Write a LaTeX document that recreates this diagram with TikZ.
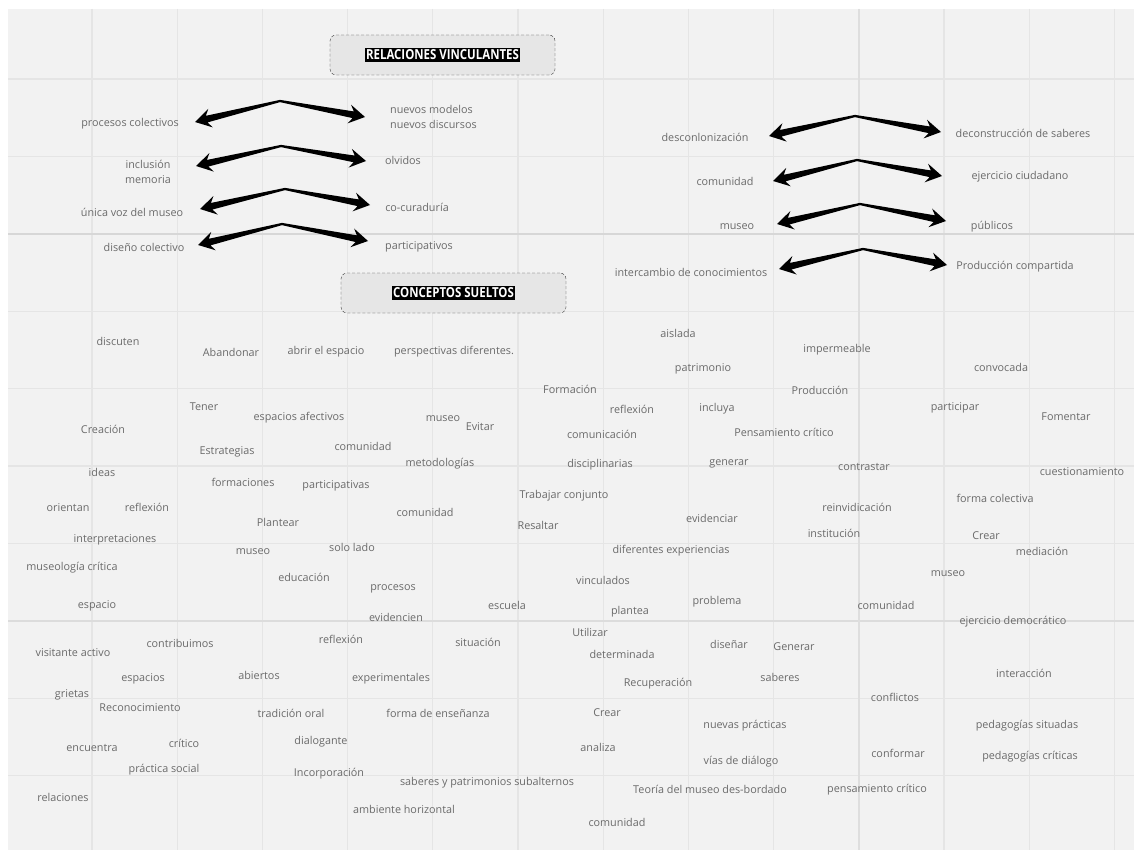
\documentclass[tikz,border=0pt]{standalone}
\usepackage{fontspec}
\setmainfont{Open Sans}
\newfontfamily\headfont{Open Sans}[FakeStretch=0.83]
\usetikzlibrary{calc}

\definecolor{canvas}{HTML}{F2F2F2}
\definecolor{gridline}{HTML}{E5E5E5}
\definecolor{wordgray}{HTML}{6A6A6A}
\definecolor{boxfill}{HTML}{E6E6E6}

% tapered arrow from an apex (#1) to a tip (#2)
\newcommand\fatarrow[2]{%
  \coordinate (fb) at ($(#2)!12pt!(#1)$);
  \coordinate (fq) at ($(#2)!16pt!(#1)$);
  \fill ($(#1)!1.1pt!90:(#2)$) -- ($(fb)!3.4pt!90:(#2)$) -- ($(fq)!9.5pt!90:(#2)$) -- (#2)
    -- ($(fq)!9.5pt!-90:(#2)$) -- ($(fb)!3.4pt!-90:(#2)$) -- ($(#1)!1.1pt!-90:(#2)$) -- cycle;
}

\begin{document}
\begin{tikzpicture}[x=1pt, y=-1pt,
  concept/.style = {text=wordgray, inner sep=1pt, font=\fontsize{10.8}{14.5}\selectfont},
  headbox/.style = {draw=black!80, dash pattern=on 3pt off 2pt, rounded corners=6pt, fill=boxfill, minimum width=225pt, minimum height=40pt},
  headlabel/.style = {fill=black, text=white, inner sep=1.5pt, font=\headfont\bfseries\fontsize{13.8}{14}\selectfont}]

\useasboundingbox (0,0) rectangle (1134,850);
\fill[white] (0,0) rectangle (1134,850);
\fill[canvas] (8,9) rectangle (1134,850);

% grid
\foreach \k in {0,...,12} \draw[gridline, line width=1.2pt] (92+85.2*\k,9) -- (92+85.2*\k,850);
\foreach \k in {0,...,9} \draw[gridline, line width=1.2pt] (8,79+77.4*\k) -- (1134,79+77.4*\k);
\draw[gridline!94!black, line width=1.6pt] (8,233.8) -- (1134,233.8);
\draw[gridline!96!black, line width=1.6pt] (8,620.8) -- (1134,620.8);
\draw[gridline!97!black, line width=1.4pt] (859,9) -- (859,850);

% headings
\node[headbox] (relbox) at (442.5,55) {};
\node[headlabel] (rellabel) at (relbox.center) {RELACIONES VINCULANTES};
\node[headbox] (conbox) at (453.5,293) {};
\node[headlabel] (conlabel) at (conbox.center) {CONCEPTOS SUELTOS};

% chevron arrows
\foreach \ax/\ay/\lx/\ly/\rx/\ry [count=\i] in {280/101/195/122/365/117, 281/146/196/166/366/161,
    285/189/200/209/370/205, 282/224/198/245/368/241, 855/116/769/136/941/132,
    857/160/773/181/942/176, 860/204/777/224/946/221, 863/249/779/269/947/265}{
  \coordinate (ap\i) at (\ax,\ay);
  \coordinate (lt\i) at (\lx,\ly);
  \coordinate (rt\i) at (\rx,\ry);
  \fatarrow{ap\i}{lt\i}
  \fatarrow{ap\i}{rt\i}
}

% relaciones vinculantes
\node[concept] (proc) at (130,124) {procesos colectivos};
\node[concept, anchor=west, align=left] (nuevos) at (389,117) {nuevos modelos\\nuevos discursos};
\node[concept, align=center] (inclu) at (148,172) {inclusión\\memoria};
\node[concept] (olvid) at (403,160) {olvidos};
\node[concept] (unica) at (132,212) {única voz del museo};
\node[concept] (cocur) at (417,207) {co-curaduría};
\node[concept] (disen) at (144,247) {diseño colectivo};
\node[concept] (partic) at (419,247) {participativos};
\node[concept] (descol) at (705,137) {desconlonización};
\node[concept] (decons) at (1023,133) {deconstrucción de saberes};
\node[concept] (comR) at (725,181) {comunidad};
\node[concept] (ejerc) at (1020,177) {ejercicio ciudadano};
\node[concept] (museoR) at (737,227) {museo};
\node[concept] (publ) at (992,227) {públicos};
\node[concept] (interc) at (691,272) {intercambio de conocimientos};
\node[concept] (produc) at (1015,267) {Producción compartida};

% conceptos sueltos
\node[concept] (discuten) at (118,341) {discuten};
\node[concept] (abandonar) at (231,352) {Abandonar};
\node[concept] (abrir) at (326,352) {abrir el espacio};
\node[concept] (perspect) at (454,352) {perspectivas diferentes.};
\node[concept] (aislada) at (678,333) {aislada};
\node[concept] (patrim) at (703,369) {patrimonio};
\node[concept] (imperm) at (837,350) {impermeable};
\node[concept] (convoc) at (1001,367) {convocada};
\node[concept] (tener) at (204,407) {Tener};
\node[concept] (espafec) at (299,418) {espacios afectivos};
\node[concept] (creacion) at (103,429) {Creación};
\node[concept] (estrat) at (227,452) {Estrategias};
\node[concept] (com1) at (363,446) {comunidad};
\node[concept] (museo1) at (443,419) {museo};
\node[concept] (evitar) at (480,427) {Evitar};
\node[concept] (formacion) at (570,389) {Formación};
\node[concept] (refl1) at (632,409) {reflexión};
\node[concept] (incluya) at (717,409) {incluya};
\node[concept] (comunic) at (602,434) {comunicación};
\node[concept] (pensam1) at (784,432) {Pensamiento crítico};
\node[concept] (producc) at (820,390) {Producción};
\node[concept] (particip) at (955,408) {participar};
\node[concept] (fomentar) at (1066,417) {Fomentar};
\node[concept] (ideas) at (102,472) {ideas};
\node[concept] (formac) at (243,482) {formaciones};
\node[concept] (partas) at (336,486) {participativas};
\node[concept] (metod) at (440,464) {metodologías};
\node[concept] (discip) at (600,465) {disciplinarias};
\node[concept] (generar) at (729,464) {generar};
\node[concept] (contras) at (864,467) {contrastar};
\node[concept] (cuest) at (1082,472) {cuestionamiento};
\node[concept] (orientan) at (68,508) {orientan};
\node[concept] (refl2) at (147,507) {reflexión};
\node[concept] (plantear) at (278,522) {Plantear};
\node[concept] (com2) at (425,512) {comunidad};
\node[concept] (trabajar) at (564,496) {Trabajar conjunto};
\node[concept] (resaltar) at (538,525) {Resaltar};
\node[concept] (evidenc) at (712,518) {evidenciar};
\node[concept] (reinv) at (857,507) {reinvidicación};
\node[concept] (formacol) at (995,498) {forma colectiva};
\node[concept] (interp) at (115,540) {interpretaciones};
\node[concept] (museo2) at (253,552) {museo};
\node[concept] (solo) at (352,547) {solo lado};
\node[concept] (difexp) at (671,551) {diferentes experiencias};
\node[concept] (instit) at (834,533) {institución};
\node[concept] (crear1) at (986,536) {Crear};
\node[concept] (mediac) at (1042,551) {mediación};
\node[concept] (museolog) at (72,568) {museología crítica};
\node[concept] (educ) at (304,577) {educación};
\node[concept] (vincul) at (603,580) {vinculados};
\node[concept] (museo3) at (948,574) {museo};
\node[concept] (procesos) at (393,589) {procesos};
\node[concept] (espacio) at (97,606) {espacio};
\node[concept] (escuela) at (507,605) {escuela};
\node[concept] (plantea) at (630,612) {plantea};
\node[concept] (problema) at (717,602) {problema};
\node[concept] (com3) at (886,605) {comunidad};
\node[concept] (evidcien) at (396,617) {evidencien};
\node[concept] (ejdem) at (1013,622) {ejercicio democrático};
\node[concept] (contrib) at (180,643) {contribuimos};
\node[concept] (refl3) at (341,639) {reflexión};
\node[concept] (situac) at (478,642) {situación};
\node[concept] (utilizar) at (590,632) {Utilizar};
\node[concept] (determ) at (622,654) {determinada};
\node[concept] (disenar) at (729,644) {diseñar};
\node[concept] (gen2) at (794,647) {Generar};
\node[concept] (visit) at (73,653) {visitante activo};
\node[concept] (espacios) at (143,679) {espacios};
\node[concept] (abiertos) at (259,675) {abiertos};
\node[concept] (experim) at (391,679) {experimentales};
\node[concept] (recup) at (658,684) {Recuperación};
\node[concept] (saberes) at (780,677) {saberes};
\node[concept] (interac) at (1024,673) {interacción};
\node[concept] (grietas) at (72,695) {grietas};
\node[concept] (conflic) at (895,697) {conflictos};
\node[concept] (reconoc) at (140,708) {Reconocimiento};
\node[concept] (tradic) at (291,713) {tradición oral};
\node[concept] (formaens) at (438,713) {forma de enseñanza};
\node[concept] (crear2) at (607,713) {Crear};
\node[concept] (nuevasp) at (745,726) {nuevas prácticas};
\node[concept] (pedsit) at (1027,726) {pedagogías situadas};
\node[concept] (encuentra) at (92,748) {encuentra};
\node[concept] (critico) at (184,743) {crítico};
\node[concept] (dialog) at (321,742) {dialogante};
\node[concept] (analiza) at (598,747) {analiza};
\node[concept] (viasdial) at (741,762) {vías de diálogo};
\node[concept] (conform) at (898,753) {conformar};
\node[concept] (pedcrit) at (1030,757) {pedagogías críticas};
\node[concept] (practsoc) at (164,770) {práctica social};
\node[concept] (incorp) at (329,774) {Incorporación};
\node[concept] (saberesp) at (487,783) {saberes y patrimonios subalternos};
\node[concept] (teoria) at (710,789) {Teoría del museo des-bordado};
\node[concept] (pensam2) at (877,790) {pensamiento crítico};
\node[concept] (relac) at (63,797) {relaciones};
\node[concept] (ambiente) at (404,809) {ambiente horizontal};
\node[concept] (com4) at (617,822) {comunidad};

\end{tikzpicture}
\end{document}
